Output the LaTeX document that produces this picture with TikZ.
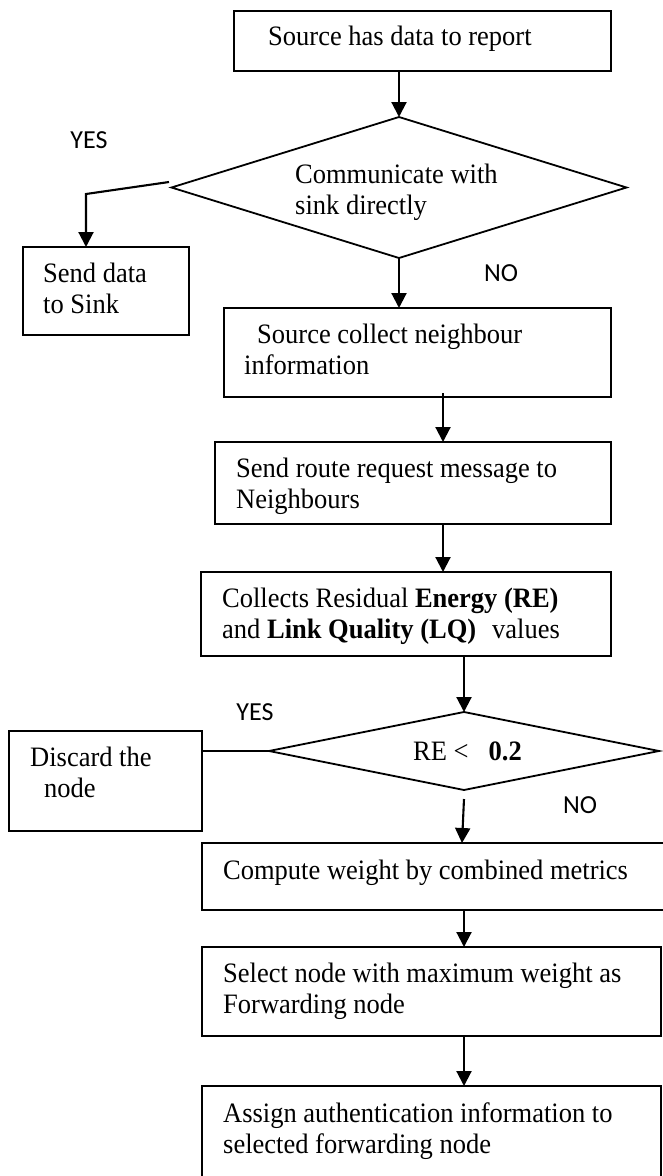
\documentclass[tikz,border=0pt]{standalone}
\usepackage{graphicx}
\usepackage{fontspec}
\setmainfont{Liberation Serif}
\newfontfamily\labfont{Carlito}
\usetikzlibrary{arrows.meta,shapes.geometric}
\newcommand\tallt[1]{\scalebox{1}[1.06]{#1}}
\newcommand\twol[2]{\tallt{\begin{tabular}[t]{@{}l@{}}#1\\#2\end{tabular}}}
\begin{document}
\begin{tikzpicture}[x=1pt,y=-1pt,
  box/.style={draw, line width=1.8pt, inner sep=0pt, outer sep=0pt},
  dia/.style={draw, diamond, line width=1.8pt, inner sep=0pt, outer sep=0pt},
  txt/.style={anchor=base west, inner sep=0pt, font=\fontsize{26.5}{30}\selectfont},
  lab/.style={inner sep=0pt, font=\labfont\fontsize{26}{31}\selectfont},
  arr/.style={line width=2.1pt, -{Triangle[width=15pt,length=15pt]}},
  ln/.style={line width=1.8pt}]
\fill[white] (0,0) rectangle (663,1176);
\useasboundingbox (0,0) rectangle (663,1176);
\clip (0,0) rectangle (663,1176);

% boxes and decisions
\node[box, minimum width=377pt, minimum height=60pt] (b1) at (422.5,41) {};
\node[dia, minimum width=455pt, minimum height=141pt] (d1) at (399,187.5) {};
\node[box, minimum width=166pt, minimum height=88pt] (b2) at (106,291) {};
\node[box, minimum width=387pt, minimum height=89pt] (b3) at (417.5,352.5) {};
\node[box, minimum width=396pt, minimum height=82pt] (b4) at (413,483) {};
\node[box, minimum width=410pt, minimum height=84pt] (b5) at (406,614) {};
\node[dia, minimum width=390pt, minimum height=78pt] (d2) at (464,751) {};
\node[box, minimum width=193pt, minimum height=100pt] (b6) at (105.5,781) {};
\node[box, minimum width=468pt, minimum height=67pt] (b7) at (436,876.5) {};
\node[box, minimum width=459pt, minimum height=89pt] (b8) at (431.5,991.5) {};
\node[box, minimum width=459pt, minimum height=99pt] (b9) at (431.5,1135.5) {};

% texts
\node[txt] (t1) at (268,45) {\tallt{Source has data to report}};
\node[txt] (td1) at (295,183) {\twol{Communicate with}{sink directly}};
\node[txt] (t2) at (43,282) {\twol{Send data}{to Sink}};
\node[txt] (t3) at (244,343) {\twol{\hspace{13pt}Source collect neighbour}{information}};
\node[txt] (t4) at (236,477) {\twol{Send route request message to}{Neighbours}};
\node[txt] (t5) at (222,607) {\twol{Collects Residual \textbf{Energy (RE)}}{and \textbf{Link Quality (LQ)}\hspace{16pt}values}};
\node[txt] (td2) at (413,760) {\tallt{RE <\hspace{20pt}\textbf{0.2}}};
\node[txt] (t6) at (30,766) {\twol{Discard the}{\hspace{14pt}node}};
\node[txt] (t7) at (223,879) {\tallt{Compute weight by combined metrics}};
\node[txt] (t8) at (223,982) {\twol{Select node with maximum weight as}{Forwarding node}};
\node[txt] (t9) at (223,1122) {\twol{Assign authentication information to}{selected forwarding node}};

% labels
\node[lab] (yes1) at (89,140.5) {YES};
\node[lab] (no1) at (501,273.5) {NO};
\node[lab] (yes2) at (255,712) {YES};
\node[lab] (no2) at (580,805) {NO};

% connectors
\draw[arr] (b1.south -| d1.north) -- (d1.north);
\draw[arr] (d1.south) -- (d1.south |- b3.north);
\coordinate (y1s) at (169,182);
\coordinate (y1b) at (86,194);
\draw[arr] (y1s) -- (y1b) -- (y1b |- b2.north);
\coordinate (c34) at (443,393);
\draw[arr] (c34) -- (c34 |- b4.north);
\draw[arr] (b4.south -| c34) -- (c34 |- b5.north);
\draw[arr] (b5.south -| d2.north) -- (d2.north);
\draw[ln] (d2.west) -- (d2.west -| b6.east);
\coordinate (c7s) at (464,799);
\draw[arr] (c7s) -- ([xshift=-2pt]c7s |- b7.north);
\draw[arr] (b7.south -| d2.south) -- (d2.south |- b8.north);
\draw[arr] (b8.south -| d2.south) -- (d2.south |- b9.north);
\end{tikzpicture}
\end{document}
